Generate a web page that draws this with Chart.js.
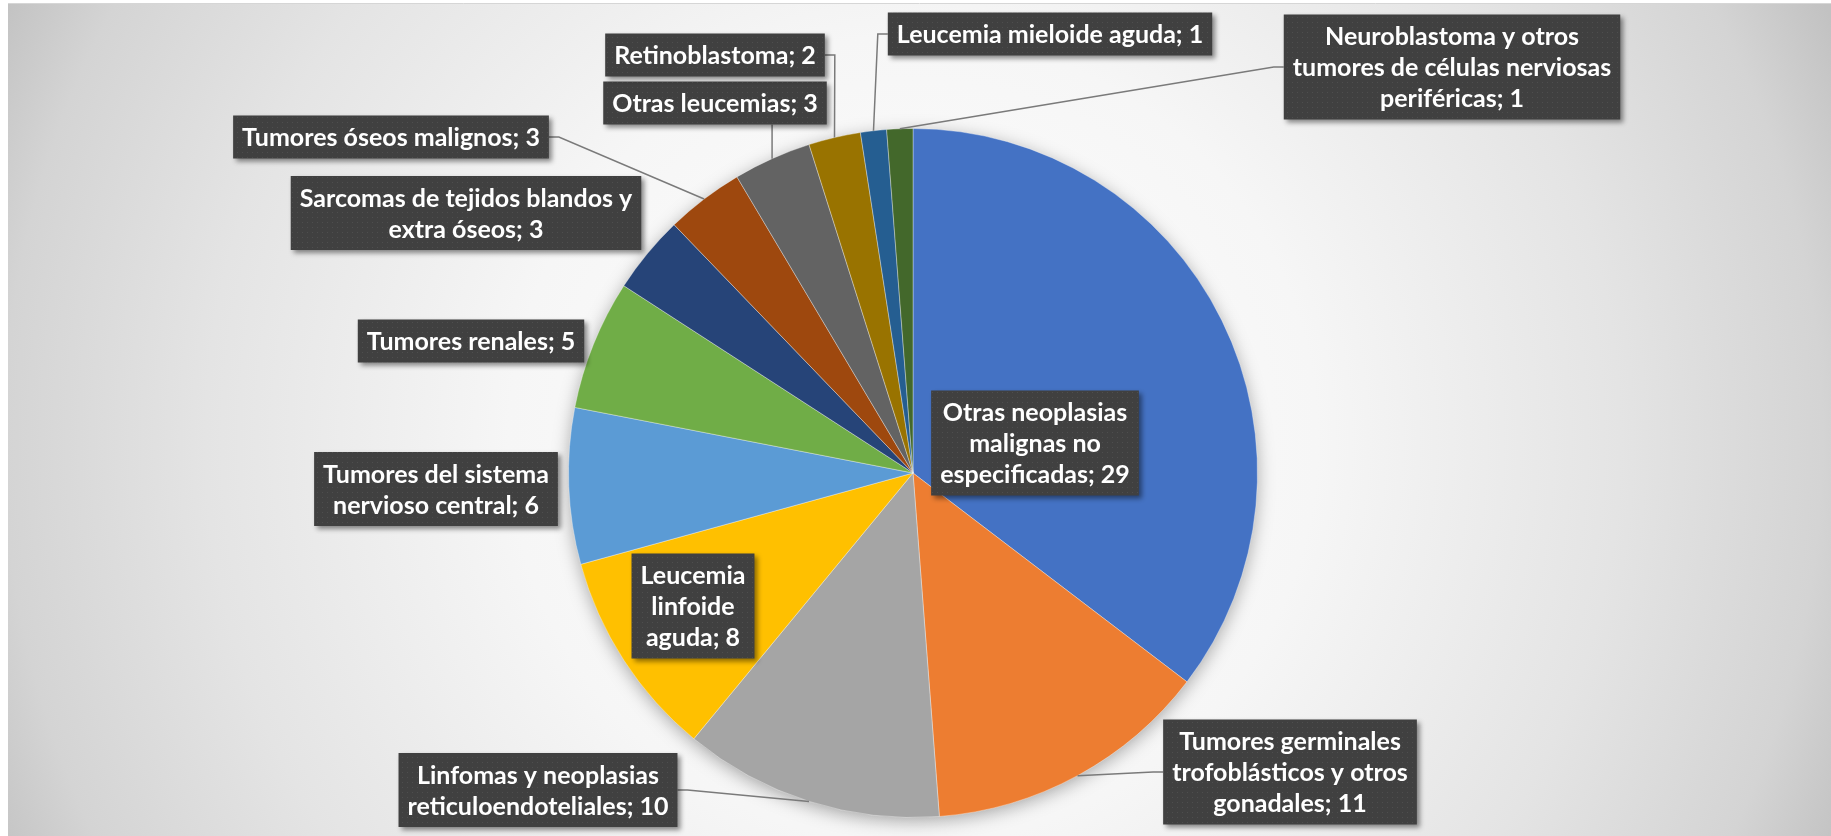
<!DOCTYPE html>
<html>
<head>
<meta charset="utf-8">
<script src="https://cdn.jsdelivr.net/npm/chart.js@4.4.1/dist/chart.umd.min.js"></script>
<style>
  html, body { margin: 0; padding: 0; background: #fff; overflow: hidden; }
  canvas { display: block; }
</style>
</head>
<body>
<canvas id="chart" width="1831" height="836"></canvas>
<script>
// data
const categories = [
  ['Otras neoplasias', 'malignas no', 'especificadas'],
  ['Tumores germinales', 'trofoblásticos y otros', 'gonadales'],
  ['Linfomas y neoplasias', 'reticuloendoteliales'],
  ['Leucemia', 'linfoide', 'aguda'],
  ['Tumores del sistema', 'nervioso central'],
  ['Tumores renales'],
  ['Sarcomas de tejidos blandos y', 'extra óseos'],
  ['Tumores óseos malignos'],
  ['Otras leucemias'],
  ['Retinoblastoma'],
  ['Leucemia mieloide aguda'],
  ['Neuroblastoma y otros', 'tumores de células nerviosas', 'periféricas']
];
const values = [29, 11, 10, 8, 6, 5, 3, 3, 3, 2, 1, 1];

// styles / layout
const colors = ['#4472C4', '#ED7D31', '#A5A5A5', '#FFC000', '#5B9BD5', '#70AD47',
                '#264478', '#9E480E', '#636363', '#997300', '#255E91', '#43682B'];
const labelX = [1035, 1290, 538, 693, 436, 471, 466, 391, 715, 715, 1050, 1452];
const labelY = [443, 772, 790, 606, 489, 341, 213, 137, 103, 55, 34, 67];
const leader = [false, true, true, false, false, false, false, true, true, true, true, true];

const FONT = 'bold 25px Lato, "Open Sans", sans-serif';
const LINE_H = 31, PAD_X = 9, PAD_Y = 6;

// dotted fill for the label boxes
const pat = document.createElement('canvas'); pat.width = 5; pat.height = 5;
{ const p = pat.getContext('2d'); p.fillStyle = '#404040'; p.fillRect(0, 0, 5, 5);
  p.fillStyle = '#4e4e4e'; p.fillRect(2, 2, 1, 1); }

const background = {
  id: 'background',
  beforeDraw(chart) {
    const { ctx, width, height } = chart;
    ctx.save();
    ctx.fillStyle = '#ffffff'; ctx.fillRect(0, 0, width, height);
    const g = ctx.createRadialGradient(913, 440, 0, 913, 440, 1010);
    g.addColorStop(0, '#ffffff');
    g.addColorStop(0.4, '#f6f6f6');
    g.addColorStop(0.7, '#e4e4e4');
    g.addColorStop(0.9, '#d4d4d4');
    g.addColorStop(1, '#c2c2c2');
    ctx.fillStyle = g; ctx.fillRect(8, 4, width - 8, height - 4);
    ctx.strokeStyle = '#d6d6d6'; ctx.lineWidth = 1;
    ctx.beginPath(); ctx.moveTo(8, 3.5); ctx.lineTo(width, 3.5); ctx.stroke();
    ctx.restore();
  }
};

const pieShadow = {
  id: 'pieShadow',
  beforeDatasetsDraw(chart) {
    const arc = chart.getDatasetMeta(0).data[0];
    if (!arc) return;
    const { ctx } = chart;
    ctx.save();
    ctx.shadowColor = 'rgba(0,0,0,0.35)'; ctx.shadowBlur = 18; ctx.shadowOffsetY = 4;
    ctx.fillStyle = '#cccccc';
    ctx.beginPath(); ctx.arc(arc.x, arc.y, arc.outerRadius - 1, 0, Math.PI * 2); ctx.fill();
    ctx.restore();
  }
};

const dataLabels = {
  id: 'dataLabels',
  afterDatasetsDraw(chart) {
    const { ctx } = chart;
    const meta = chart.getDatasetMeta(0);
    ctx.save();
    ctx.font = FONT;
    meta.data.forEach((arc, i) => {
      const lines = categories[i].slice();
      lines[lines.length - 1] += '; ' + values[i];
      const tw = Math.max(...lines.map(l => ctx.measureText(l).width));
      const w = tw + PAD_X * 2, h = lines.length * LINE_H + PAD_Y * 2;
      const left = labelX[i] - w / 2, top = labelY[i] - h / 2;
      const right = left + w, bottom = top + h;

      if (leader[i]) {
        const mid = (arc.startAngle + arc.endAngle) / 2;
        const px = arc.x + Math.cos(mid) * arc.outerRadius;
        const py = arc.y + Math.sin(mid) * arc.outerRadius;
        ctx.strokeStyle = '#7a7a7a'; ctx.lineWidth = 1.5;
        ctx.beginPath();
        ctx.moveTo(px, py);
        if (px > left && px < right) {
          ctx.lineTo(px, py > bottom ? bottom : top);
        } else if (px >= right) {
          ctx.lineTo(right + 10, labelY[i]); ctx.lineTo(right, labelY[i]);
        } else {
          ctx.lineTo(left - 10, labelY[i]); ctx.lineTo(left, labelY[i]);
        }
        ctx.stroke();
      }

      ctx.save();
      ctx.shadowColor = 'rgba(0,0,0,0.45)'; ctx.shadowBlur = 5;
      ctx.shadowOffsetX = 3; ctx.shadowOffsetY = 3;
      ctx.fillStyle = ctx.createPattern(pat, 'repeat');
      ctx.fillRect(left, top, w, h);
      ctx.restore();

      ctx.fillStyle = '#ffffff';
      ctx.textAlign = 'center'; ctx.textBaseline = 'middle';
      lines.forEach((l, k) => {
        ctx.fillText(l, labelX[i], top + PAD_Y + LINE_H * (k + 0.5) + 1);
      });
    });
    ctx.restore();
  }
};

new Chart(document.getElementById('chart'), {
  type: 'pie',
  data: {
    labels: categories,
    datasets: [{
      data: values,
      backgroundColor: colors,
      borderColor: 'rgba(255,255,255,0.35)',
      borderWidth: 1
    }]
  },
  options: {
    responsive: false,
    animation: false,
    layout: { padding: { left: 568, right: 573, top: 128, bottom: 18 } },
    plugins: { legend: { display: false }, tooltip: { enabled: false } }
  },
  plugins: [background, pieShadow, dataLabels]
});
</script>
</body>
</html>
